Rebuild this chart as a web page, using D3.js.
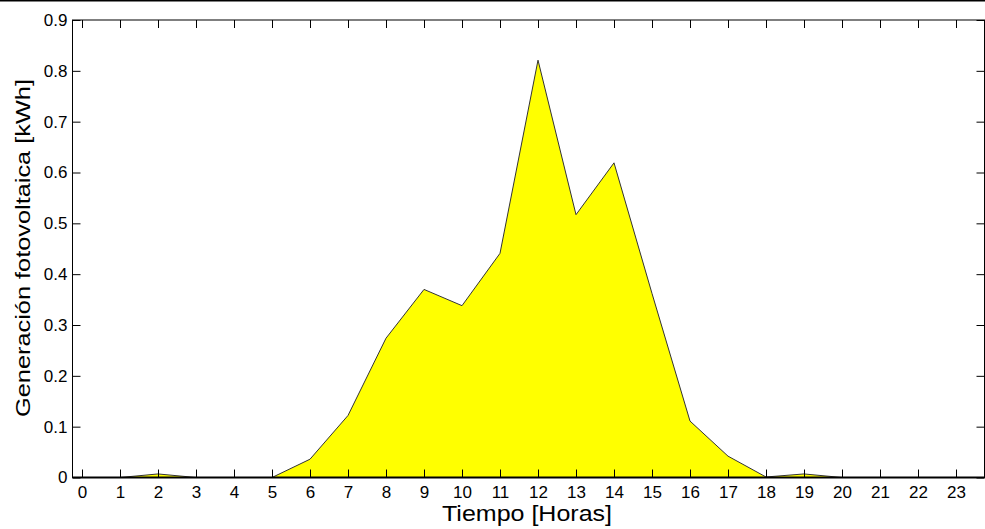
<!DOCTYPE html>
<html>
<head>
<meta charset="utf-8">
<script src="https://cdn.jsdelivr.net/npm/d3@7"></script>
<style>
body { margin: 0; background: #fff; }
svg { display: block; font-family: "Liberation Sans", Arial, sans-serif; }
</style>
</head>
<body>
<svg id="chart" width="985" height="529"></svg>
<script>
// hourly PV generation
let hours = d3.range(0, 24)
let generation = [0, 0, 0.007, 0, 0, 0, 0.036, 0.122, 0.274, 0.37, 0.338, 0.441,
	0.821, 0.517, 0.619, 0.362, 0.111, 0.042, 0.001, 0.007, 0, 0, 0, 0]
let yTicks = [0, 0.1, 0.2, 0.3, 0.4, 0.5, 0.6, 0.7, 0.8, 0.9]

let svg = d3.select('#chart')

let plotLeft = 72.5, plotRight = 984.5, plotTop = 20, plotBottom = 477.5

let x = d3.scaleLinear()
	.domain([-0.25, 23.75])
	.range([plotLeft, plotRight])

let y = d3.scaleLinear()
	.domain([0, 0.9])
	.range([plotBottom, plotTop])

let points = hours.map((h, i) => ({ h: h, v: generation[i] }))

// rule across the very top of the figure
svg.append('line')
	.attr('x1', 0).attr('x2', 985)
	.attr('y1', 0.5).attr('y2', 0.5)
	.attr('stroke', '#000')
	.attr('stroke-width', 2)

let area = d3.area()
	.x(d => x(d.h))
	.y0(y(0))
	.y1(d => y(d.v))

svg.append('path')
	.datum(points)
	.attr('d', area)
	.attr('fill', '#ffff00')

let line = d3.line()
	.x(d => x(d.h))
	.y(d => y(d.v))

svg.append('path')
	.datum(points)
	.attr('d', line)
	.attr('fill', 'none')
	.attr('stroke', '#333')
	.attr('stroke-width', 1)

// axes, ticks pointing inward like matlab
let tick = 8

svg.append('g')
	.attr('transform', `translate(0,${plotBottom})`)
	.call(d3.axisBottom(x).tickValues(hours).tickSizeInner(-tick).tickSizeOuter(0).tickPadding(8))
	.call(g => g.select('.domain').remove())

svg.append('g')
	.attr('transform', `translate(0,${plotTop})`)
	.call(d3.axisTop(x).tickValues(hours).tickSizeInner(-tick).tickSizeOuter(0).tickFormat(''))
	.call(g => g.select('.domain').remove())

svg.append('g')
	.attr('transform', `translate(${plotLeft},0)`)
	.call(d3.axisLeft(y).tickValues(yTicks).tickSizeInner(-tick).tickSizeOuter(0).tickPadding(5)
		.tickFormat(d => d === 0 ? '0' : d3.format('.1f')(d)))
	.call(g => g.select('.domain').remove())

svg.append('g')
	.attr('transform', `translate(${plotRight},0)`)
	.call(d3.axisRight(y).tickValues(yTicks).tickSizeInner(-tick).tickSizeOuter(0).tickFormat(''))
	.call(g => g.select('.domain').remove())

svg.selectAll('.tick line').attr('stroke', '#000')
svg.selectAll('.tick text')
	.attr('font-family', '"Liberation Sans", Arial, sans-serif')
	.attr('font-size', 17)
	.attr('fill', '#000')

// frame
svg.append('rect')
	.attr('x', plotLeft).attr('y', plotTop)
	.attr('width', plotRight - plotLeft).attr('height', plotBottom - plotTop)
	.attr('fill', 'none')
	.attr('stroke', '#000')
	.attr('stroke-width', 1)

svg.append('line')
	.attr('x1', plotLeft).attr('x2', plotRight)
	.attr('y1', plotBottom).attr('y2', plotBottom)
	.attr('stroke', '#000')
	.attr('stroke-width', 2)

svg.append('text')
	.attr('x', 527)
	.attr('y', 520.5)
	.attr('text-anchor', 'middle')
	.attr('font-size', 22)
	.attr('textLength', 170)
	.attr('lengthAdjust', 'spacingAndGlyphs')
	.text('Tiempo [Horas]')

svg.append('text')
	.attr('transform', `translate(30,248) rotate(-90)`)
	.attr('text-anchor', 'middle')
	.attr('font-size', 21)
	.attr('textLength', 338)
	.attr('lengthAdjust', 'spacingAndGlyphs')
	.text('Generación fotovoltaica [kWh]')
</script>
</body>
</html>
